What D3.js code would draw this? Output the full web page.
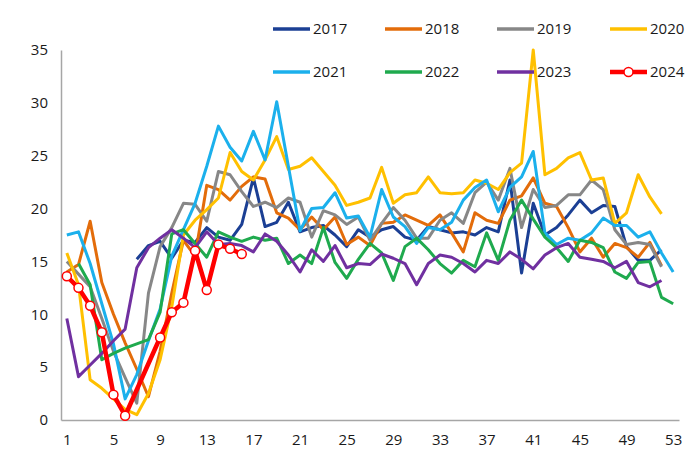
<!DOCTYPE html>
<html>
<head>
<meta charset="utf-8">
<script src="https://cdn.jsdelivr.net/npm/d3@7"></script>
<style>
  html, body { margin: 0; padding: 0; background: #fff; }
  text { font-family: "Open Sans", "Noto Sans", sans-serif; }
</style>
</head>
<body>
<svg id="chart" width="700" height="467"></svg>
<script>
const weeks = d3.range(1, 54);
const xTickLabels = [1, 5, 9, 13, 17, 21, 25, 29, 33, 37, 41, 45, 49, 53];
const yTickLabels = [0, 5, 10, 15, 20, 25, 30, 35];
const seriesNames = ["2017", "2018", "2019", "2020", "2021", "2022", "2023", "2024"];
const N = null;

const s2017 = [N, N, N, N, N, N, 15.2, 16.5, 16.9, 15.3, 17.0, 16.8, 18.2, 17.3, 17.0, 18.5, 22.9, 18.3, 18.7, 20.6,
  17.8, 18.2, 18.4, 17.5, 16.4, 18.0, 17.3, 18.0, 18.3, 17.3, 17.0, 18.3, 18.0, 17.7, 17.8, 17.5, 18.2, 17.8, 22.7, 13.9,
  20.5, 17.5, 18.2, 19.4, 20.8, 19.6, 20.3, 20.2, 16.4, 15.1, 15.1, 16.1, N];
const s2018 = [14.0, 14.7, 18.8, 13.0, 10.0, 7.3, 4.8, 2.2, 6.5, 12.0, 17.0, 15.5, 22.2, 21.8, 20.8, 22.1, 23.0, 22.8, 19.6, 19.1,
  18.0, 19.2, 18.0, 19.2, 16.6, 17.3, 16.5, 18.6, 18.7, 19.4, 18.9, 18.4, 19.4, 17.7, 15.9, 19.6, 18.9, 18.6, 20.8, 21.2,
  22.9, 20.5, 20.2, 18.2, 15.9, 17.2, 15.4, 16.7, 16.3, 15.4, 16.8, 14.6, N];
const s2019 = [15.0, 13.8, 12.6, 9.6, 6.5, 4.0, 1.6, 12.0, 16.4, 18.2, 20.5, 20.4, 18.8, 23.5, 23.2, 21.6, 20.2, 20.6, 20.1, 21.0,
  20.6, 17.3, 19.8, 19.4, 18.5, 19.2, 17.0, 18.6, 20.1, 18.9, 17.2, 17.2, 18.9, 19.6, 18.6, 21.5, 22.5, 20.8, 23.8, 18.2,
  21.8, 20.1, 20.3, 21.3, 21.3, 22.7, 21.8, 18.0, 16.6, 16.8, 16.6, 14.5, N];
const s2020 = [15.8, 12.8, 3.8, 3.0, 2.0, 1.0, 0.5, 2.5, 5.7, 10.7, 17.5, 18.9, 19.9, 21.0, 25.3, 23.5, 22.7, 24.6, 26.8, 23.7,
  24.0, 24.8, 23.5, 22.2, 20.3, 20.6, 21.0, 23.9, 20.5, 21.3, 21.5, 23.0, 21.5, 21.4, 21.5, 22.7, 22.4, 21.8, 23.4, 24.3,
  35.0, 23.2, 23.8, 24.8, 25.3, 22.7, 22.9, 18.6, 19.6, 23.2, 21.1, 19.5, N];
const s2021 = [17.5, 17.8, 14.8, 11.0, 7.2, 2.0, 4.3, 7.5, 10.5, 15.5, 18.0, 20.5, 24.0, 27.8, 25.8, 24.5, 27.3, 24.6, 30.1, 24.0,
  17.9, 20.0, 20.1, 21.5, 19.1, 19.3, 17.3, 21.8, 19.2, 18.3, 16.7, 18.2, 18.0, 18.7, 20.8, 22.0, 22.7, 19.7, 22.0, 23.0,
  25.4, 17.7, 16.6, 17.2, 17.0, 17.7, 19.1, 18.4, 18.4, 17.3, 17.8, 15.8, 14.0];
const s2022 = [N, 14.8, 12.8, 5.7, 6.3, 6.8, 7.2, 7.6, 10.2, 17.6, 18.0, 16.7, 15.4, 17.8, 17.3, 16.9, 17.3, 17.0, 17.2, 14.8,
  15.6, 14.8, 18.2, 14.9, 13.4, 15.2, 16.7, 15.8, 13.2, 16.4, 17.2, 16.1, 14.8, 13.9, 15.1, 14.5, 17.7, 15.1, 18.9, 20.8,
  19.0, 17.3, 16.3, 15.0, 17.0, 16.8, 16.3, 14.0, 13.4, 14.9, 15.0, 11.6, 11.0];
const s2023 = [9.6, 4.1, 5.2, 6.3, 7.5, 8.6, 14.4, 16.3, 17.2, 18.0, 17.2, 16.3, 17.8, 16.6, 16.7, 16.5, 15.9, 17.6, 16.9, 15.6,
  14.0, 16.1, 15.0, 16.5, 14.4, 14.8, 14.7, 15.7, 15.3, 14.8, 12.8, 14.8, 15.6, 15.4, 14.8, 14.0, 15.1, 14.8, 15.9, 15.2,
  14.3, 15.6, 16.3, 16.7, 15.4, 15.2, 15.0, 14.4, 15.0, 13.0, 12.6, 13.2, N];
const s2024 = [13.6, 12.5, 10.8, 8.3, 2.4, 0.4, N, N, 7.8, 10.2, 11.1, 16.0, 12.3, 16.6, 16.2, 15.7];

const seriesValues = [s2017, s2018, s2019, s2020, s2021, s2022, s2023, s2024];
const colors = ["#1B3F94", "#E36C0A", "#878787", "#FFC000", "#1BB0EC", "#1FAA4E", "#7030A0", "#FF0000"];

const svg = d3.select("#chart");
const x = d3.scalePoint().domain(weeks).range([61, 679]).padding(0.5);
const y = d3.scaleLinear().domain([0, 35]).range([420, 50]);

// axes
const yAxis = svg.append("g").attr("transform", "translate(61,0)")
  .call(d3.axisLeft(y).tickValues(yTickLabels).tickSize(0).tickSizeOuter(0).tickPadding(13));
const xAxis = svg.append("g").attr("transform", "translate(0,420)")
  .call(d3.axisBottom(x).tickValues(xTickLabels).tickSize(0).tickSizeOuter(0).tickPadding(14));
[yAxis, xAxis].forEach(a => {
  a.select(".domain").attr("stroke", "#a6a6a6").attr("stroke-width", 1.5);
  a.selectAll("text").attr("font-size", 15).attr("fill", "#1a1a1a")
    .attr("font-family", "'Open Sans', sans-serif");
});

// lines
const line = d3.line().x(d => x(d.w)).y(d => y(d.v));
seriesValues.forEach((vals, i) => {
  const pts = vals.map((v, k) => ({ w: weeks[k], v })).filter(d => d.v !== null && d.v !== undefined);
  const is24 = seriesNames[i] === "2024";
  svg.append("path").datum(pts)
    .attr("fill", "none")
    .attr("stroke", colors[i])
    .attr("stroke-width", is24 ? 4.5 : 3)
    .attr("stroke-linejoin", "round")
    .attr("d", line);
  if (is24) {
    svg.append("g").selectAll("circle").data(pts).join("circle")
      .attr("cx", d => x(d.w)).attr("cy", d => y(d.v)).attr("r", 4.5)
      .attr("fill", "#fff").attr("stroke", colors[i]).attr("stroke-width", 1.5);
  }
});

// legend
const legCols = [273, 385, 497, 610];
const legRows = [29, 72];
seriesNames.forEach((name, i) => {
  const lx = legCols[i % 4], ly = legRows[Math.floor(i / 4)];
  const g = svg.append("g");
  g.append("line").attr("x1", lx).attr("x2", lx + 37).attr("y1", ly).attr("y2", ly)
    .attr("stroke", colors[i]).attr("stroke-width", name === "2024" ? 4.5 : 3.5);
  if (name === "2024") {
    g.append("circle").attr("cx", lx + 18.5).attr("cy", ly).attr("r", 4.5)
      .attr("fill", "#fff").attr("stroke", colors[i]).attr("stroke-width", 1.5);
  }
  g.append("text").attr("x", lx + 40).attr("y", ly).attr("dy", "0.35em")
    .attr("font-size", 15).attr("fill", "#1a1a1a").text(name);
});
</script>
</body>
</html>
